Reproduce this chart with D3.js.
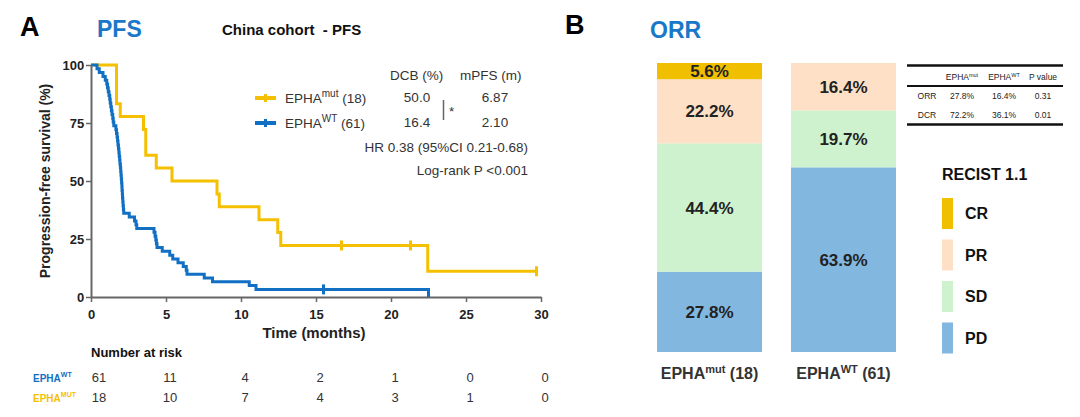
<!DOCTYPE html>
<html>
<head>
<meta charset="utf-8">
<script src="https://cdn.jsdelivr.net/npm/d3@7"></script>
<style>
  body { margin: 0; background: #fff; }
  svg { font-family: "Liberation Sans", Arial, sans-serif; }
</style>
</head>
<body>
<div id="chart"></div>
<script>
// KM step points: [month, survival %] after each drop
const mutSteps = [[0, 100], [1.7, 83.33], [1.95, 77.78], [3.5, 72.22], [3.65, 61.11], [4.35, 55.56],
  [5.4, 50], [8.4, 44.44], [8.55, 38.89], [11.2, 33.33], [12.45, 27.78], [12.65, 22.22],
  [22.45, 11.11], [29.7, 11.11]];
const mutCensor = [[16.7, 22.22], [21.3, 22.22], [29.7, 11.11]];

const wtSteps = [[0, 100], [0.4, 98.36], [0.55, 96.72], [0.8, 95.08], [0.95, 93.44], [1.05, 91.8],
  [1.1, 90.16], [1.15, 88.52], [1.2, 86.89], [1.25, 85.25], [1.28, 83.61], [1.32, 81.97],
  [1.36, 80.33], [1.4, 78.69], [1.45, 77.05], [1.48, 75.41], [1.52, 73.77], [1.66, 72.13],
  [1.7, 70.49], [1.74, 68.85], [1.77, 67.21], [1.8, 65.57], [1.83, 63.93], [1.86, 62.3],
  [1.88, 60.66], [1.91, 59.02], [1.93, 57.38], [1.96, 55.74], [1.98, 54.1], [2.0, 52.46],
  [2.02, 50.82], [2.04, 49.18], [2.06, 47.54], [2.07, 45.9], [2.09, 44.26], [2.1, 42.62],
  [2.12, 40.98], [2.14, 39.34], [2.16, 37.7], [2.18, 36.07], [2.55, 34.43], [2.9, 32.79],
  [3.0, 31.15], [3.05, 29.51], [4.2, 27.87], [4.27, 26.23], [4.32, 24.59], [4.36, 22.95],
  [4.4, 21.31], [4.75, 19.67], [5.25, 18.03], [5.45, 16.39], [5.8, 14.75], [6.15, 13.11],
  [6.35, 11.48], [6.4, 9.84], [7.55, 8.2], [8.1, 6.56], [10.55, 4.92], [11.0, 3.28], [22.5, 0]];
const wtCensor = [[15.5, 3.28]];

const xTicks = [0, 5, 10, 15, 20, 25, 30];
const yTicks = [0, 25, 50, 75, 100];
const riskWT = [61, 11, 4, 2, 1, 0, 0];
const riskMut = [18, 10, 7, 4, 3, 1, 0];

// ORR panel
const responses = ['CR', 'PR', 'SD', 'PD'];
const groups = ['mut', 'WT'];
const groupN = [18, 61];
const orrMut = [5.6, 22.2, 44.4, 27.8];
const orrWT = [0, 16.4, 19.7, 63.9];
const tableRows = ['ORR', 'DCR'];
const tableMut = ['27.8%', '72.2%'];
const tableWT = ['16.4%', '36.1%'];
const tableP = ['0.31', '0.01'];

const YEL = '#f5c000', BLU = '#1170c4', TITLE = '#1a78c8';
const respColor = { CR: '#efbf00', PR: '#fde0c6', SD: '#cdf2cd', PD: '#82b7e0' };

const svg = d3.select('#chart').append('svg').attr('width', 1080).attr('height', 417);

// ---------- Panel A ----------
svg.append('text').attr('x', 20).attr('y', 36).attr('font-size', 27).attr('font-weight', 700).text('A');
svg.append('text').attr('x', 97).attr('y', 37).attr('font-size', 23).attr('font-weight', 700).attr('fill', TITLE).text('PFS');
svg.append('text').attr('x', 222).attr('y', 35).attr('font-size', 15).attr('font-weight', 700).attr('fill', '#111')
  .attr('xml:space', 'preserve').text('China cohort  - PFS');

const x = d3.scaleLinear().domain([0, 30]).range([91, 541]);
const y = d3.scaleLinear().domain([0, 100]).range([297, 65]);

const xAxis = svg.append('g').attr('transform', 'translate(0,297)')
  .call(d3.axisBottom(x).tickValues(xTicks).tickSize(5).tickSizeOuter(0));
const yAxis = svg.append('g').attr('transform', 'translate(91,0)')
  .call(d3.axisLeft(y).tickValues(yTicks).tickSize(5).tickSizeOuter(0));
[xAxis, yAxis].forEach(a => {
  a.select('.domain').attr('stroke', '#666').attr('stroke-width', 2);
  a.selectAll('.tick line').attr('stroke', '#666').attr('stroke-width', 1.5);
  a.selectAll('.tick text').attr('font-size', 13).attr('font-weight', 700).attr('fill', '#222')
    .attr('font-family', '"Liberation Sans", Arial, sans-serif');
});
xAxis.selectAll('.tick text').attr('dy', '1.05em');
yAxis.selectAll('.tick text').attr('dx', '0.1em');

svg.append('text').attr('x', 314).attr('y', 338).attr('text-anchor', 'middle').attr('font-size', 15)
  .attr('font-weight', 700).attr('fill', '#222').text('Time (months)');
svg.append('text').attr('transform', 'translate(50,181) rotate(-90)').attr('text-anchor', 'middle')
  .attr('font-size', 14).attr('font-weight', 700).attr('fill', '#222').text('Progression-free survival (%)');

const line = d3.line().x(d => x(d[0])).y(d => y(d[1])).curve(d3.curveStepAfter);
function drawKM(steps, censor, color) {
  svg.append('path').datum(steps).attr('d', line).attr('fill', 'none')
    .attr('stroke', color).attr('stroke-width', 3);
  svg.selectAll(null).data(censor).enter().append('line')
    .attr('x1', d => x(d[0])).attr('x2', d => x(d[0]))
    .attr('y1', d => y(d[1]) - 5).attr('y2', d => y(d[1]) + 5)
    .attr('stroke', color).attr('stroke-width', 3);
}
drawKM(mutSteps, mutCensor, YEL);
drawKM(wtSteps, wtCensor, BLU);

// legend / stats
const stat = svg.append('g').attr('font-size', 13.5).attr('fill', '#333');
function legendItem(yy, color, sup, n) {
  stat.append('line').attr('x1', 255).attr('x2', 276).attr('y1', yy).attr('y2', yy).attr('stroke', color).attr('stroke-width', 4);
  stat.append('line').attr('x1', 265.5).attr('x2', 265.5).attr('y1', yy - 4).attr('y2', yy + 4).attr('stroke', color).attr('stroke-width', 3);
  const t = stat.append('text').attr('x', 285).attr('y', yy + 5).text('EPHA');
  t.append('tspan').attr('dy', -6).attr('font-size', 10).text(sup);
  t.append('tspan').attr('dy', 6).text(' (' + n + ')');
}
stat.append('text').attr('x', 390).attr('y', 80).text('DCB (%)');
stat.append('text').attr('x', 460).attr('y', 80).text('mPFS (m)');
legendItem(98, YEL, 'mut', 18);
legendItem(123, BLU, 'WT', 61);
stat.append('text').attr('x', 417).attr('y', 102).attr('text-anchor', 'middle').text('50.0');
stat.append('text').attr('x', 417).attr('y', 127).attr('text-anchor', 'middle').text('16.4');
stat.append('text').attr('x', 495).attr('y', 102).attr('text-anchor', 'middle').text('6.87');
stat.append('text').attr('x', 495).attr('y', 127).attr('text-anchor', 'middle').text('2.10');
stat.append('line').attr('x1', 443.5).attr('x2', 443.5).attr('y1', 100).attr('y2', 120).attr('stroke', '#666').attr('stroke-width', 1.5);
stat.append('text').attr('x', 449).attr('y', 116).text('*');
stat.append('text').attr('x', 528).attr('y', 152).attr('text-anchor', 'end').text('HR 0.38 (95%CI 0.21-0.68)');
stat.append('text').attr('x', 528).attr('y', 175).attr('text-anchor', 'end').text('Log-rank P <0.001');

// risk table
svg.append('text').attr('x', 91).attr('y', 357).attr('font-size', 13).attr('font-weight', 700).attr('fill', '#111').text('Number at risk');
function riskLabel(yy, color, sup) {
  const t = svg.append('text').attr('x', 33).attr('y', yy).attr('font-size', 10).attr('font-weight', 700).attr('fill', color).text('EPHA');
  t.append('tspan').attr('dy', -5).attr('font-size', 7).text(sup);
}
riskLabel(382, BLU, 'WT');
riskLabel(402, YEL, 'MUT');
const risk = svg.append('g').attr('font-size', 13).attr('fill', '#333').attr('text-anchor', 'middle');
risk.selectAll(null).data(riskWT).enter().append('text')
  .attr('x', (d, i) => x(xTicks[i]) + (i === 0 ? 8 : 4)).attr('y', 382).text(d => d);
risk.selectAll(null).data(riskMut).enter().append('text')
  .attr('x', (d, i) => x(xTicks[i]) + (i === 0 ? 8 : 4)).attr('y', 402).text(d => d);

// ---------- Panel B ----------
svg.append('text').attr('x', 565).attr('y', 34).attr('font-size', 27).attr('font-weight', 700).text('B');
svg.append('text').attr('x', 650).attr('y', 38).attr('font-size', 23).attr('font-weight', 700).attr('fill', TITLE).text('ORR');

const xb = d3.scaleBand().domain(groups).range([657, 896]).paddingInner(0.216).paddingOuter(0);
const yb = d3.scaleLinear().domain([0, 100]).range([352, 63]);
const stackData = groups.map((g, gi) => {
  const vals = gi === 0 ? orrMut : orrWT;
  const row = { group: g };
  responses.forEach((r, i) => { row[r] = vals[i]; });
  return row;
});
const stack = d3.stack().keys(responses.slice().reverse())(stackData);
const bars = svg.append('g');
stack.forEach(layer => {
  bars.selectAll(null).data(layer.filter(d => d[1] - d[0] > 0)).enter().append('rect')
    .attr('x', d => xb(d.data.group)).attr('width', xb.bandwidth())
    .attr('y', d => yb(d[1])).attr('height', d => yb(d[0]) - yb(d[1]))
    .attr('fill', respColor[layer.key]);
  bars.selectAll(null).data(layer.filter(d => d[1] - d[0] > 0)).enter().append('text')
    .attr('x', d => xb(d.data.group) + xb.bandwidth() / 2)
    .attr('y', d => (yb(d[0]) + yb(d[1])) / 2 + 6)
    .attr('text-anchor', 'middle').attr('font-size', 17).attr('font-weight', 700).attr('fill', '#222')
    .text(d => (d[1] - d[0]).toFixed(1) + '%');
});
groups.forEach((g, i) => {
  const t = svg.append('text').attr('x', xb(g) + xb.bandwidth() / 2).attr('y', 379).attr('text-anchor', 'middle')
    .attr('font-size', 16).attr('font-weight', 700).attr('fill', '#333').text('EPHA');
  t.append('tspan').attr('dy', -6).attr('font-size', 11).text(g);
  t.append('tspan').attr('dy', 6).text(' (' + groupN[i] + ')');
});

// summary table
const tb = svg.append('g').attr('font-size', 8.5).attr('fill', '#222');
tb.append('line').attr('x1', 907).attr('x2', 1063).attr('y1', 65.5).attr('y2', 65.5).attr('stroke', '#111').attr('stroke-width', 2.5);
tb.append('line').attr('x1', 907).attr('x2', 1063).attr('y1', 86).attr('y2', 86).attr('stroke', '#111').attr('stroke-width', 2);
tb.append('line').attr('x1', 907).attr('x2', 1063).attr('y1', 124.5).attr('y2', 124.5).attr('stroke', '#111').attr('stroke-width', 2.5);
const colX = [927, 962, 1004, 1043];
const h1 = tb.append('text').attr('x', colX[1]).attr('y', 80).attr('text-anchor', 'middle').text('EPHA');
h1.append('tspan').attr('dy', -3).attr('font-size', 5.5).text('mut');
const h2 = tb.append('text').attr('x', colX[2]).attr('y', 80).attr('text-anchor', 'middle').text('EPHA');
h2.append('tspan').attr('dy', -3).attr('font-size', 5.5).text('WT');
tb.append('text').attr('x', colX[3]).attr('y', 80).attr('text-anchor', 'middle').text('P value');
tableRows.forEach((r, i) => {
  const yy = 99 + i * 19;
  [r, tableMut[i], tableWT[i], tableP[i]].forEach((v, j) => {
    tb.append('text').attr('x', colX[j]).attr('y', yy).attr('text-anchor', 'middle').text(v);
  });
});

// RECIST legend
svg.append('text').attr('x', 942).attr('y', 180).attr('font-size', 16).attr('font-weight', 700).attr('fill', '#111').text('RECIST 1.1');
responses.forEach((r, i) => {
  const y0 = 198 + i * 41.5;
  svg.append('rect').attr('x', 942).attr('y', y0).attr('width', 11).attr('height', 31).attr('fill', respColor[r]);
  svg.append('text').attr('x', 965).attr('y', y0 + 21).attr('font-size', 16).attr('font-weight', 700).attr('fill', '#111').text(r);
});
</script>
</body>
</html>
